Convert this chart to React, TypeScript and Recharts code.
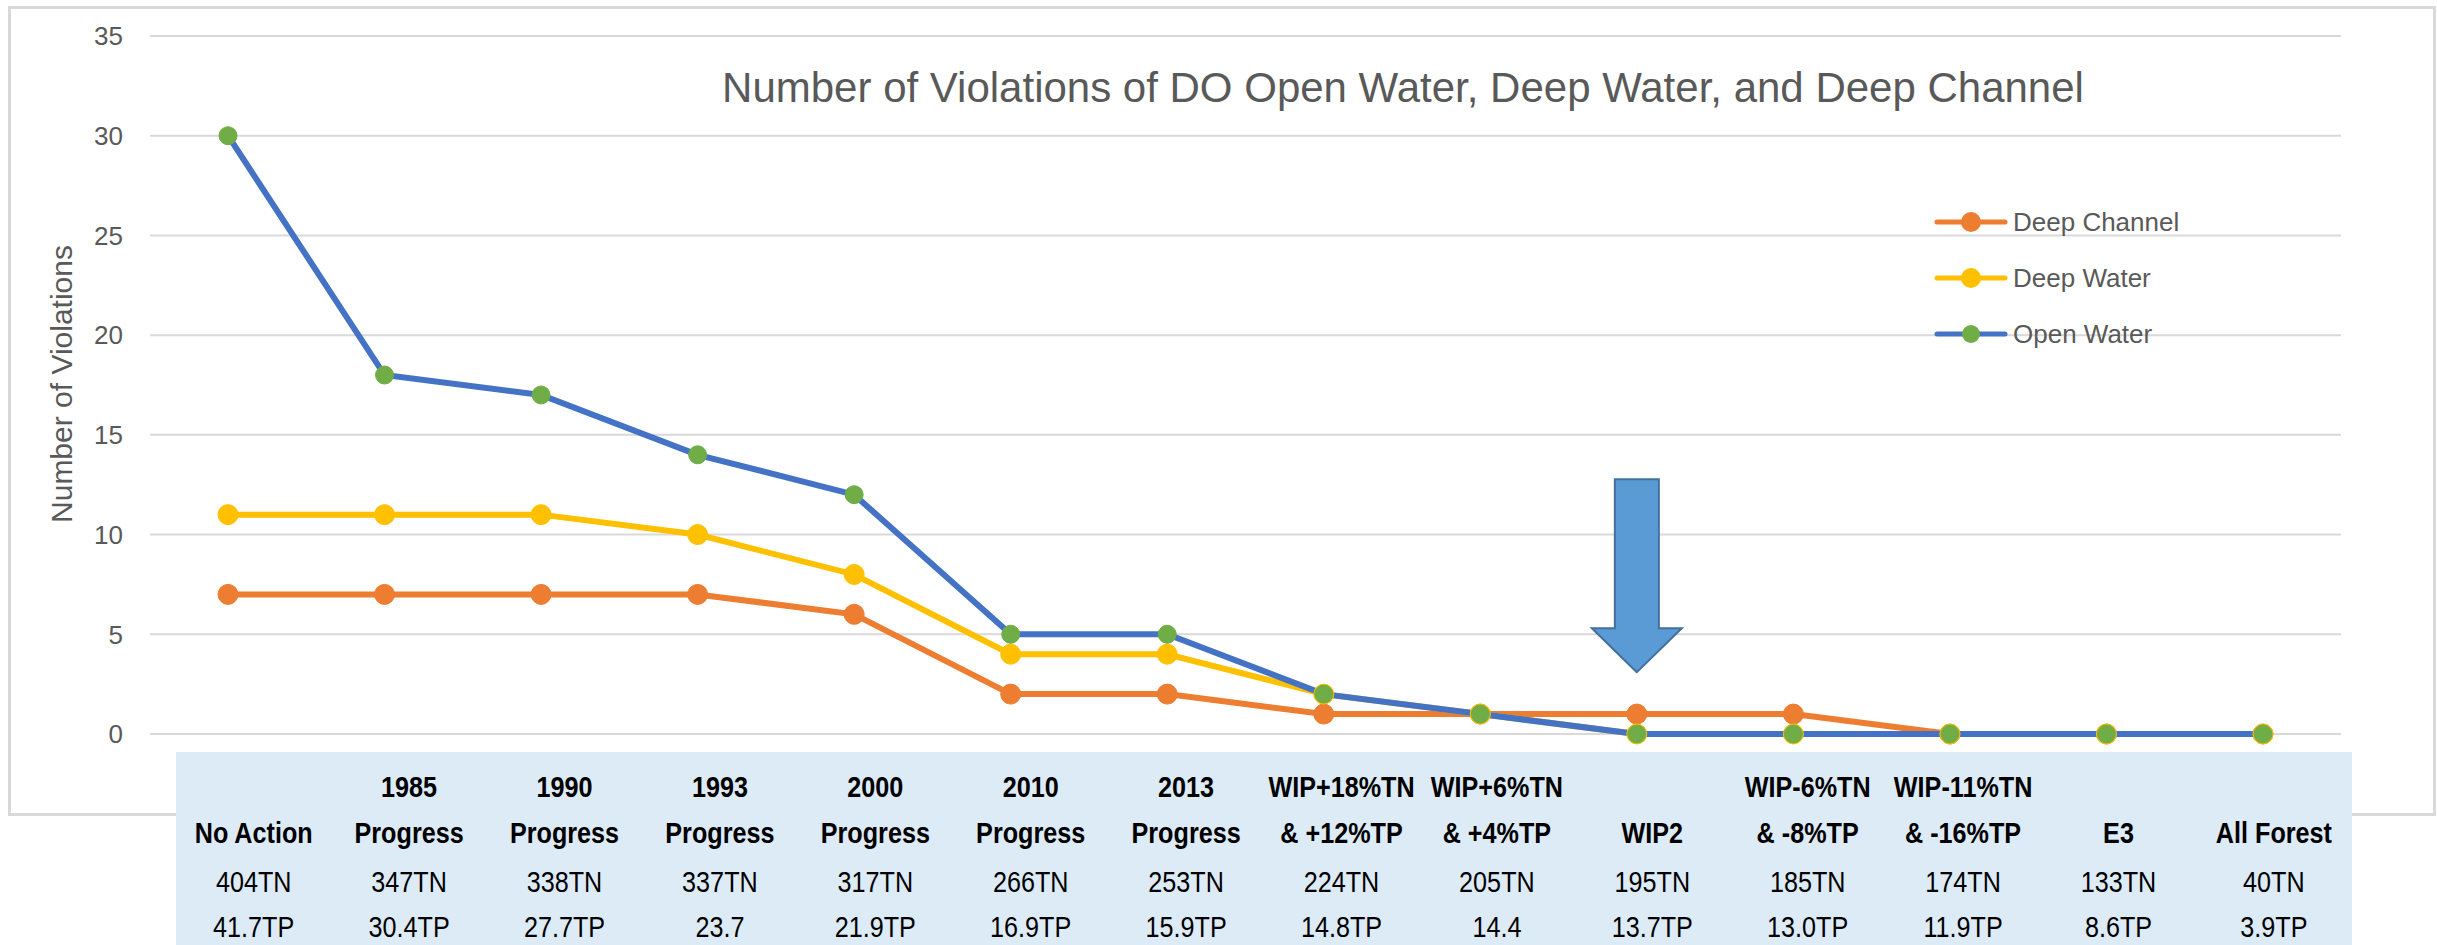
import { LineChart, Line, XAxis, YAxis, CartesianGrid, ReferenceDot } from "recharts";

// scenarios along the x axis
const categories = [
  "No Action", "1985 Progress", "1990 Progress", "1993 Progress", "2000 Progress",
  "2010 Progress", "2013 Progress", "WIP+18%TN & +12%TP", "WIP+6%TN & +4%TP", "WIP2",
  "WIP-6%TN & -8%TP", "WIP-11%TN & -16%TP", "E3", "All Forest",
];
// the table under the chart, one entry per column
const headTop = ["", "1985", "1990", "1993", "2000", "2010", "2013", "WIP+18%TN", "WIP+6%TN", "", "WIP-6%TN", "WIP-11%TN", "", ""];
const headBottom = ["No Action", "Progress", "Progress", "Progress", "Progress", "Progress", "Progress", "& +12%TP", "& +4%TP", "WIP2", "& -8%TP", "& -16%TP", "E3", "All Forest"];
const tnLabels = ["404TN", "347TN", "338TN", "337TN", "317TN", "266TN", "253TN", "224TN", "205TN", "195TN", "185TN", "174TN", "133TN", "40TN"];
const tpLabels = ["41.7TP", "30.4TP", "27.7TP", "23.7", "21.9TP", "16.9TP", "15.9TP", "14.8TP", "14.4", "13.7TP", "13.0TP", "11.9TP", "8.6TP", "3.9TP"];

const openWater = [30, 18, 17, 14, 12, 5, 5, 2, 1, 0, 0, 0, 0, 0];
const deepWater = [11, 11, 11, 10, 8, 4, 4, 2, 1, 0, 0, 0, 0, 0];
const deepChannel = [7, 7, 7, 7, 6, 2, 2, 1, 1, 1, 1, 0, 0, 0];

const yTicks = [0, 5, 10, 15, 20, 25, 30, 35];
const arrowAt = "WIP2";
const arrowTip = 3.1;

const series = [
  { key: "deepChannel", name: "Deep Channel", stroke: "#ED7D31", fill: "#ED7D31", r: 10 },
  { key: "deepWater", name: "Deep Water", stroke: "#FFC000", fill: "#FFC000", r: 10 },
  { key: "openWater", name: "Open Water", stroke: "#4472C4", fill: "#70AD47", r: 9 },
];

const data = categories.map((name, i) => ({
  name,
  openWater: openWater[i],
  deepWater: deepWater[i],
  deepChannel: deepChannel[i],
}));

const W = 2437;
const H = 945;
const TABLE_LEFT = 176;
const COL_W = 155.4;
const grey = "#595959";
const font = "'Liberation Sans', Arial, sans-serif";

// no narrow font installed, so squeeze Liberation Sans horizontally
function TableText({ x, y, bold, children }: any) {
  return (
    <text
      transform={`translate(${x},${y}) scale(0.84,1)`}
      textAnchor="middle"
      fontFamily={font}
      fontSize={30}
      fontWeight={bold ? 700 : 400}
      fill="#000"
    >
      {children}
    </text>
  );
}

function TableTick(props: any) {
  const i = categories.indexOf(props.payload.value);
  const cx = TABLE_LEFT + COL_W * (i + 0.5);
  return (
    <g>
      <TableText x={cx} y={797} bold>{headTop[i]}</TableText>
      <TableText x={cx} y={843} bold>{headBottom[i]}</TableText>
      <TableText x={cx} y={892}>{tnLabels[i]}</TableText>
      <TableText x={cx} y={937}>{tpLabels[i]}</TableText>
    </g>
  );
}

function Arrow(props: any) {
  const { cx, cy } = props;
  const pts = [
    [cx, cy], [cx - 45, cy - 44], [cx - 22, cy - 44], [cx - 22, cy - 193],
    [cx + 22, cy - 193], [cx + 22, cy - 44], [cx + 45, cy - 44],
  ].map((p) => p.join(",")).join(" ");
  return <polygon points={pts} fill="#5B9BD5" stroke="#41719C" strokeWidth={2} />;
}

export default function App() {
  return (
    <div style={{ position: "absolute", left: 0, top: 0, width: W, height: H, background: "#fff", overflow: "hidden" }}>
      <div style={{ position: "absolute", left: 8, top: 6, width: 2428, height: 810, border: "3px solid #d9d9d9", boxSizing: "border-box" }} />
      <div style={{ position: "absolute", left: TABLE_LEFT, top: 752, width: COL_W * 14, height: H - 752, background: "#DDEBF7" }} />
      <div style={{ position: "absolute", left: 0, top: 0 }}>
        <LineChart width={W} height={H} data={data} margin={{ top: 36, right: 96, bottom: 0, left: 0 }}>
          <CartesianGrid vertical={false} stroke="#d9d9d9" strokeWidth={2} />
          <XAxis
            dataKey="name"
            height={211}
            axisLine={false}
            tickLine={false}
            interval={0}
            padding={{ left: 78, right: 78 }}
            tick={TableTick}
          />
          <YAxis
            width={150}
            domain={[0, 35]}
            ticks={yTicks}
            axisLine={false}
            tickLine={false}
            tickSize={0}
            tickMargin={27}
            tick={{ fill: grey, fontSize: 26, fontFamily: font }}
          />
          {series.map((s) => (
            <Line
              key={s.key}
              dataKey={s.key}
              name={s.name}
              stroke={s.stroke}
              strokeWidth={6}
              dot={{ r: s.r, fill: s.fill, stroke: s.fill, strokeWidth: 1 }}
              activeDot={false}
              isAnimationActive={false}
            />
          ))}
          <ReferenceDot x={arrowAt} y={arrowTip} shape={Arrow} />
        </LineChart>
      </div>
      <svg width={W} height={H} style={{ position: "absolute", left: 0, top: 0, pointerEvents: "none" }}>
        <text x={1403} y={102} textAnchor="middle" fontFamily={font} fontSize={42} fill={grey}>
          Number of Violations of DO Open Water, Deep Water, and Deep Channel
        </text>
        <text transform="translate(72,384) rotate(-90)" textAnchor="middle" fontFamily={font} fontSize={30} fill={grey}>
          Number of Violations
        </text>
        {series.map((s, i) => {
          const y = 222 + i * 56;
          return (
            <g key={s.key}>
              <line x1={1937} x2={2005} y1={y} y2={y} stroke={s.stroke} strokeWidth={5} strokeLinecap="round" />
              <circle cx={1971} cy={y} r={s.r} fill={s.fill} />
              <text x={2013} y={y + 9} fontFamily={font} fontSize={26} fill={grey}>{s.name}</text>
            </g>
          );
        })}
      </svg>
    </div>
  );
}
